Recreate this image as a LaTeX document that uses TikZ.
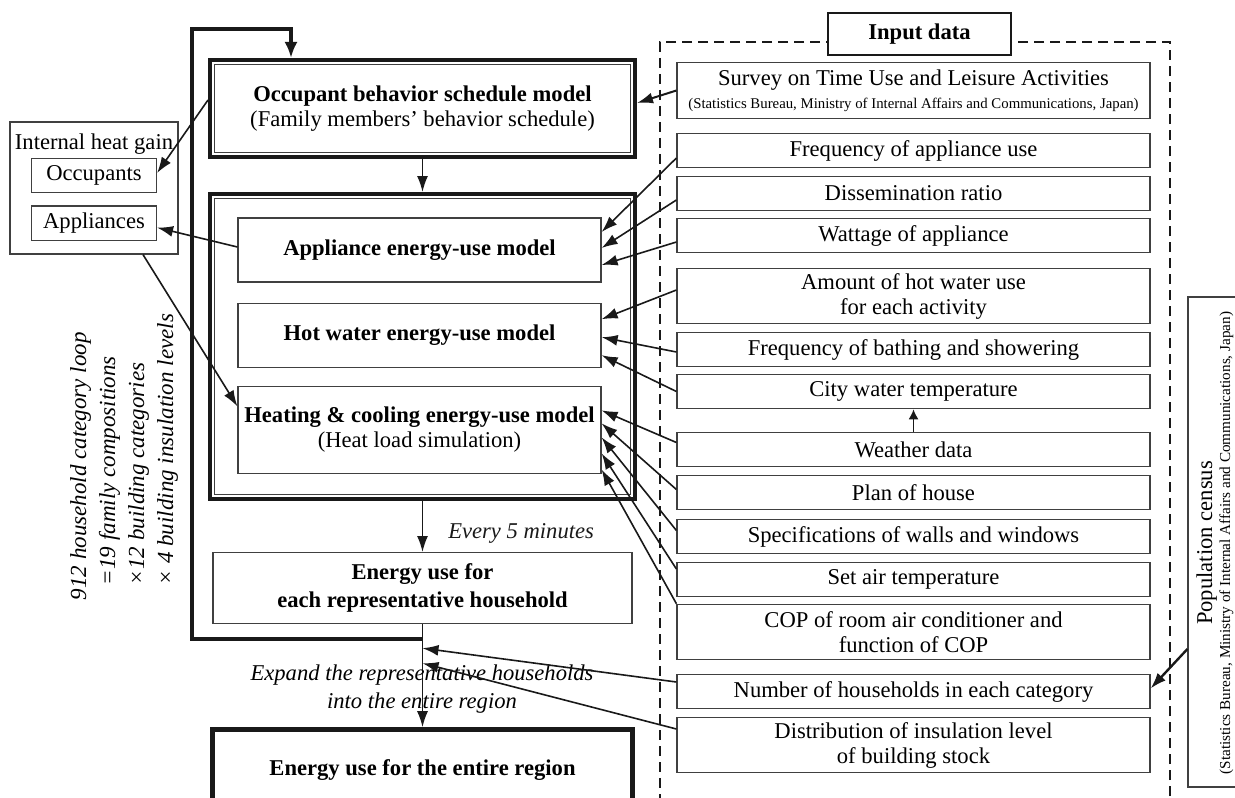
\documentclass[tikz,border=0pt]{standalone}
\usepackage{fontspec}
\setmainfont{Liberation Serif}
\usepackage{tikz}
\usetikzlibrary{arrows.meta, calc, positioning}
\usepackage{xcolor}
\definecolor{RichBlack}{gray}{0.10}
\definecolor{BoxGray}{gray}{0.25}
\newcommand{\diagfont}{\fontsize{11.3}{12.5}\selectfont}
\newcommand{\sourcefont}{\fontsize{7.4}{8}\selectfont}
\tikzset{%
  block/.style={%
    rectangle,%
    draw=BoxGray,%
    line width=0.6pt,%
    inner sep=1pt,%
    minimum height=17.2pt,%
    font={\diagfont},%
    align=center%
  },
  input_block/.style={%
    block,%
    minimum width=236.5pt%
  },
  model_block/.style={%
    block,%
    minimum width=181.5pt,%
    minimum height=32pt,%
    font={\diagfont\bfseries}%
  },
  heavy_block/.style={%
    rectangle,%
    draw=RichBlack,%
    line width=2pt,%
    minimum width=212.5pt,%
    align=center,%
    font={\diagfont}%
  },
  inner_border/.style={%
    draw=BoxGray,%
    line width=0.6pt%
  },
  input_frame/.style={%
    rectangle,%
    draw=RichBlack,%
    line width=1.2pt,%
    dash pattern=on 5pt off 3pt,%
    minimum width=255pt,%
    minimum height=394pt%
  },
  annotate/.style={%
    font={\diagfont},%
    inner sep=1pt%
  },
  note/.style={%
    font={\fontsize{11.3}{14}\selectfont\itshape},%
    align=center,%
    inner sep=0pt%
  },
  signal_path/.style={%
    color=RichBlack,%
    line width=0.8pt,%
    line join=round%
  },
  loop_path/.style={%
    color=RichBlack,%
    line width=2pt%
  },
  arrow/.style={-{Latex[length=8pt, width=5.5pt]}},
}

\begin{document}
\begin{tikzpicture}[x=0.5pt, y=0.5pt]
  \useasboundingbox (0,0) rectangle (1235,-797);

    % input data
    \node [input_frame] (InputFrame) at (915,-436) {};
    \node [block, draw=RichBlack, line width=1pt, fill=white, font={\diagfont\bfseries},
      minimum width=91.5pt, minimum height=21pt] (InputLabel) at (919.5,-34) {Input data};

    \node [input_block, minimum height=28.2pt] (Survey) at (913.5,-90.5)
      {Survey on Time Use and Leisure Activities\\[-1pt]
      {\sourcefont (Statistics Bureau, Ministry of Internal Affairs and Communications, Japan)}};
    \node [input_block, below = 6.7pt of Survey] (FreqUse) {Frequency of appliance use};
    \node [input_block, below = 3.7pt of FreqUse] (Dissemination) {Dissemination ratio};
    \node [input_block, below = 3.2pt of Dissemination] (Wattage) {Wattage of appliance};
    \node [input_block, minimum height=27.7pt, below = 7.2pt of Wattage] (HotWaterAmount)
      {Amount of hot water use\\for each activity};
    \node [input_block, below = 3.7pt of HotWaterAmount] (Bathing) {Frequency of bathing and showering};
    \node [input_block, below = 3.2pt of Bathing] (CityWater) {City water temperature};
    \node [input_block, below = 11.2pt of CityWater] (Weather) {Weather data};
    \node [input_block, below = 3.7pt of Weather] (Plan) {Plan of house};
    \node [input_block, below = 4.2pt of Plan] (WallSpec) {Specifications of walls and windows};
    \node [input_block, below = 3.7pt of WallSpec] (SetTemp) {Set air temperature};
    \node [input_block, minimum height=27.7pt, below = 3.2pt of SetTemp] (COP)
      {COP of room air conditioner and\\function of COP};
    \node [input_block, below = 6.7pt of COP] (Households) {Number of households in each category};
    \node [input_block, minimum height=27.7pt, below = 3.7pt of Households] (Insulation)
      {Distribution of insulation level\\of building stock};

    \node [block, minimum width=26pt, minimum height=245pt] (Census) at (1214,-542) {};
    \node [annotate, rotate=90, align=center] (CensusText) at (1215,-543)
      {Population census\\[-3.5pt]
      {\fontsize{7.6}{9}\selectfont (Statistics Bureau, Ministry of Internal Affairs and Communications, Japan)}};

    % model column
    \node [heavy_block, minimum height=48.5pt] (Occupant) at (422.5,-108.5)
      {\textbf{Occupant behavior schedule model}\\(Family members’ behavior schedule)};
    \node [heavy_block, minimum height=152.5pt] (ModelGroup) at (422.5,-346.5) {};
    \draw [inner_border]
      ($(Occupant.north west)+(6.5,-6.5)$) rectangle ($(Occupant.south east)+(-6.5,6.5)$);
    \draw [inner_border]
      ($(ModelGroup.north west)+(6.5,-6.5)$) rectangle ($(ModelGroup.south east)+(-6.5,6.5)$);

    \node [model_block] (Appliance) at (419.5,-250) {Appliance energy-use model};
    \node [model_block, below = 10pt of Appliance] (HotWater) {Hot water energy-use model};
    \node [model_block, minimum height=43.5pt, below = 9pt of HotWater] (Heating)
      {Heating \& cooling energy-use model\\{\normalfont (Heat load simulation)}};

    \node [block, font={\fontsize{11.3}{14}\selectfont\bfseries}, minimum width=209.5pt,
      minimum height=35.5pt, below = 25.5pt of ModelGroup] (Energy)
      {Energy use for\\each representative household};
    \node [heavy_block, line width=2.5pt, font={\diagfont\bfseries}, minimum width=210pt,
      minimum height=40pt, below = 51.5pt of Energy] (Region) {Energy use for the entire region};

    % internal heat gain
    \node [block, minimum width=84pt, minimum height=66pt] (HeatGain) at (94,-188) {};
    \node [annotate, below = 5pt of HeatGain.north] (HeatGainTitle) {Internal heat gain};
    \node [block, minimum width=62.5pt] (Occupants) at (94,-175.5) {Occupants};
    \node [block, minimum width=62.5pt, below = 6pt of Occupants] (Appliances) {Appliances};

    \node [note, rotate=90, align=left, font={\fontsize{11.5}{14.5}\selectfont\itshape}] (LoopNote)
      at (124,-457)
      {912 household category loop\\
      \hspace*{7.5pt}=19 family compositions\\
      \hspace*{7.5pt}×12 building categories\\
      \hspace*{7.5pt}× 4 building insulation levels};

    % household category loop
    \coordinate (loop_join) at ($(Energy.south)+(0,-15)$);
    \coordinate (loop_corner) at (192,-29);
    \coordinate (loop_in) at ($(Occupant.north west)+(83,0)$);
    \draw [-{Latex[length=8pt, width=6.5pt]}, loop_path]
      (loop_join)
      -|
      (loop_corner)
      -|
      (loop_in);

    \draw [arrow, signal_path]
      (Occupant.south)
      --
      (ModelGroup.north);
    \draw [arrow, signal_path]
      (ModelGroup.south)
      --
      (Energy.north)
      node [note, midway, right = 12.5pt, yshift=-3.5pt] (EveryFive) {Every 5 minutes};
    \draw [arrow, signal_path]
      (Energy.south)
      --
      (Region.north);
    \node [note] (Expand) at (422,-689)
      {Expand the representative households\\into the entire region};

    \draw [arrow, signal_path]
      ($(Occupant.west)+(0,8.5)$) -- ($(Occupants.east)+(0,2.5)$);
    \draw [arrow, signal_path]
      ($(Appliance.west)+(0,3)$) -- ($(Appliances.east)+(0,-4.5)$);
    \draw [arrow, signal_path]
      ($(HeatGain.south)+(49,0)$) -- ($(Heating.west)+(0,23.5)$);

    % inputs to the models
    \draw [arrow, signal_path, line width=1pt]
      (Survey.west) -- ($(Occupant.east)+(0,5.5)$);
    \draw [arrow, signal_path]
      ($(FreqUse.west)+(0,-7.5)$) -- ($(Appliance.east)+(0,18)$);
    \draw [arrow, signal_path]
      ($(Dissemination.west)+(0,-6.5)$) -- ($(Appliance.east)+(0,2)$);
    \draw [arrow, signal_path]
      ($(Wattage.west)+(0,-6.5)$) -- ($(Appliance.east)+(0,-15)$);
    \draw [arrow, signal_path]
      ($(HotWaterAmount.west)+(0,6)$) -- ($(HotWater.east)+(0,16)$);
    \draw [arrow, signal_path]
      ($(Bathing.west)+(0,-2.5)$) -- ($(HotWater.east)+(0,-2)$);
    \draw [arrow, signal_path]
      (CityWater.west) -- ($(HotWater.east)+(0,-20)$);
    \draw [arrow, signal_path]
      ($(Weather.west)+(0,7)$) -- ($(Heating.east)+(0,19.5)$);
    \draw [arrow, signal_path]
      ($(Plan.west)+(0,3)$) -- ($(Heating.east)+(0,6.5)$);
    \draw [arrow, signal_path]
      ($(WallSpec.west)+(0,6)$) -- ($(Heating.east)+(0,-7.5)$);
    \draw [arrow, signal_path]
      ($(SetTemp.west)+(0,10.5)$) -- ($(Heating.east)+(0,-23.5)$);
    \draw [arrow, signal_path]
      (COP.north west) -- ($(Heating.east)+(0,-39.5)$);
    \draw [-{Latex[length=5pt, width=5pt]}, signal_path]
      (Weather.north) -- (CityWater.south);

    % expansion to the region
    \draw [arrow, signal_path]
      ($(Households.west)+(0,9.5)$) -- ($(Energy.south)+(0,-24)$);
    \draw [arrow, signal_path]
      ($(Insulation.west)+(0,16)$) -- ($(Energy.south)+(0,-39)$);
    \draw [arrow, signal_path, line width=1.2pt]
      ($(Census.west)+(0,-107)$) -- ($(Households.east)+(0,3)$);
  \end{tikzpicture}
\end{document}
